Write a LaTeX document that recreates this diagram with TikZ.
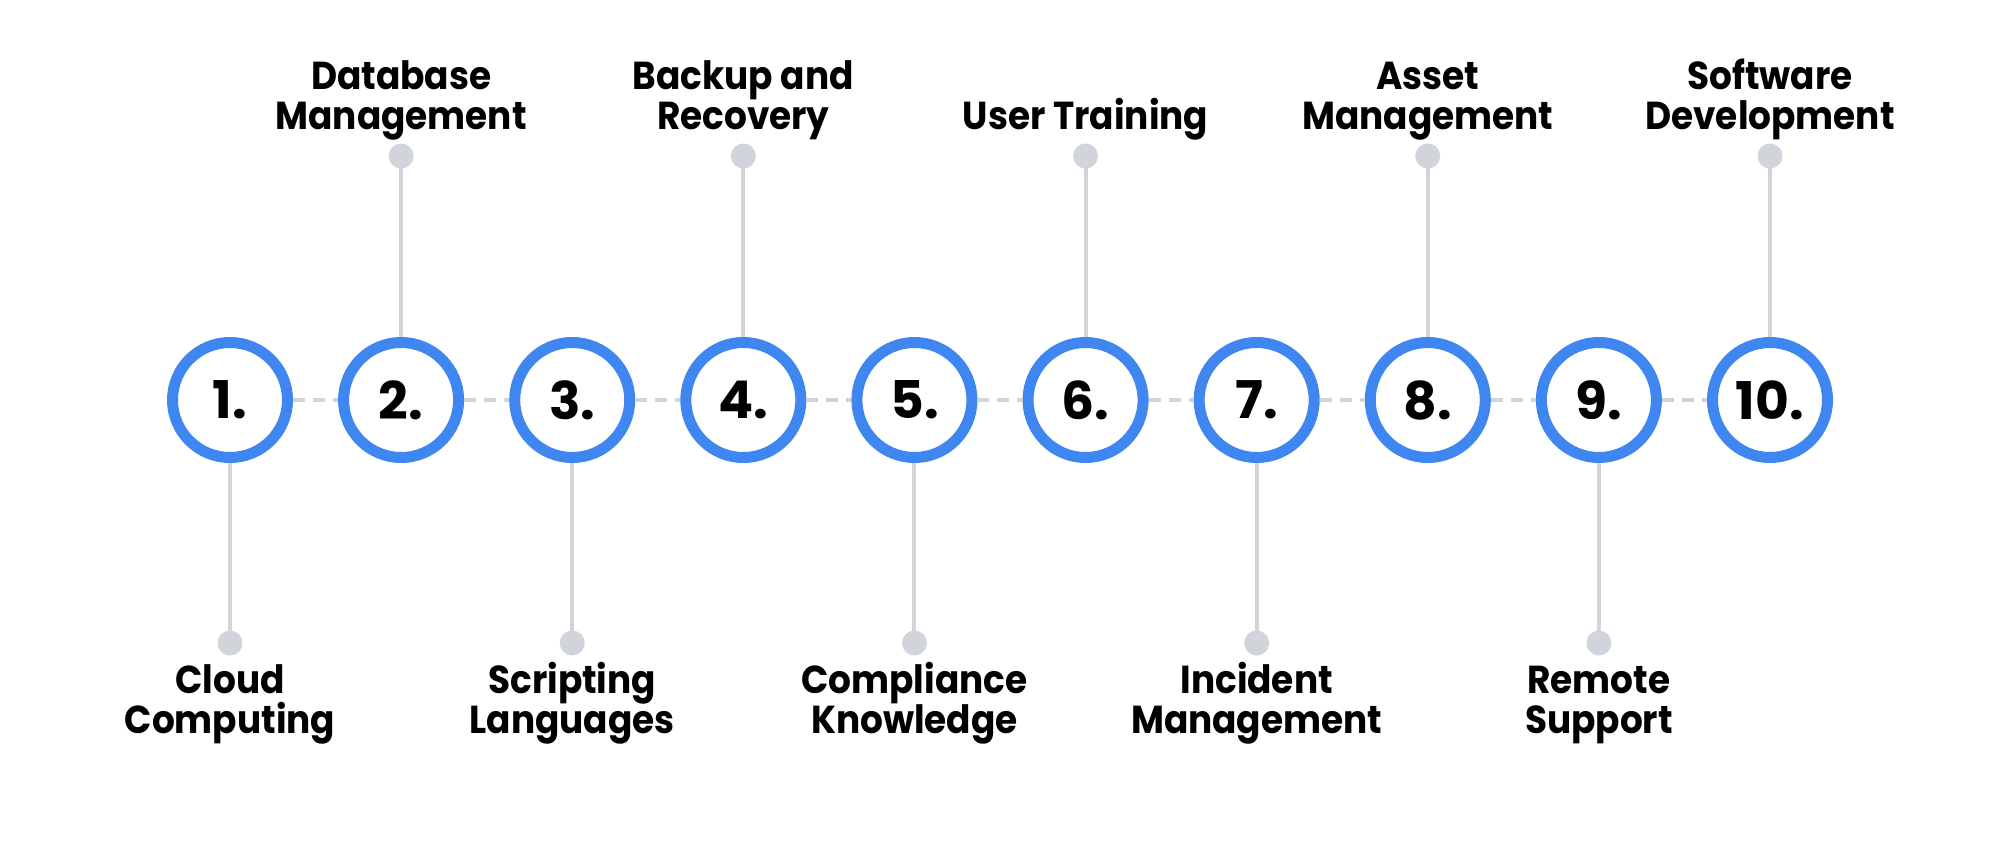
\documentclass[tikz,border=0pt]{standalone}
\usepackage{fontspec}
\setmainfont{Poppins}
\newfontfamily\lblfont{Poppins}[FakeStretch=0.92]
\definecolor{ringblue}{HTML}{3F86F0}
\definecolor{stemgray}{HTML}{D1D5DB}
\begin{document}
\begin{tikzpicture}[x=1pt,y=-1pt,
  ring/.style={circle, draw=ringblue, line width=11pt, fill=white, minimum size=115pt, inner sep=0pt, outer sep=5.5pt, font=\fontsize{52}{52}\selectfont\bfseries},
  dotn/.style={circle, fill=stemgray, minimum size=25pt, inner sep=0pt, outer sep=0pt},
  stem/.style={draw=stemgray, line width=4pt},
  link/.style={draw=stemgray, line width=4pt, dash pattern=on 12pt off 8pt},
  lbl/.style={align=center, font=\lblfont\fontsize{39}{40}\selectfont\bfseries, anchor=base, inner sep=0pt}]
\useasboundingbox (0,0) rectangle (2000,848);
\fill[white] (0,0) rectangle (2000,848);
\foreach \i in {1,...,10} {
  \pgfmathsetmacro\xx{230+(\i-1)*171.111}
  \node[ring] (c\i) at (\xx,400) {\i.};
}
\foreach \i [evaluate=\i as \j using int(\i+1)] in {1,...,9} {
  \draw[link] (c\i.east) -- (c\j.west);
}
\foreach \i in {2,4,...,10} {
  \pgfmathsetmacro\xx{230+(\i-1)*171.111}
  \node[dotn] (d\i) at (\xx,156) {};
  \draw[stem] (c\i.north) -- (d\i.center);
}
\foreach \i in {1,3,...,9} {
  \pgfmathsetmacro\xx{230+(\i-1)*171.111}
  \node[dotn] (d\i) at (\xx,643) {};
  \draw[stem] (c\i.south) -- (d\i.center);
}
\node[lbl] (l2) at (c2 |- 0,130) {Database\\Management};
\node[lbl] (l4) at (c4 |- 0,130) {Backup and\\Recovery};
\node[lbl] (l6) at (c6 |- 0,130) {User Training};
\node[lbl] (l8) at (c8 |- 0,130) {Asset\\Management};
\node[lbl] (l10) at (c10 |- 0,130) {Software\\Development};
\node[lbl] (l1) at (c1 |- 0,733) {Cloud\\Computing};
\node[lbl] (l3) at (c3 |- 0,733) {Scripting\\Languages};
\node[lbl] (l5) at (c5 |- 0,733) {Compliance\\Knowledge};
\node[lbl] (l7) at (c7 |- 0,733) {Incident\\Management};
\node[lbl] (l9) at (c9 |- 0,733) {Remote\\Support};
\end{tikzpicture}
\end{document}
